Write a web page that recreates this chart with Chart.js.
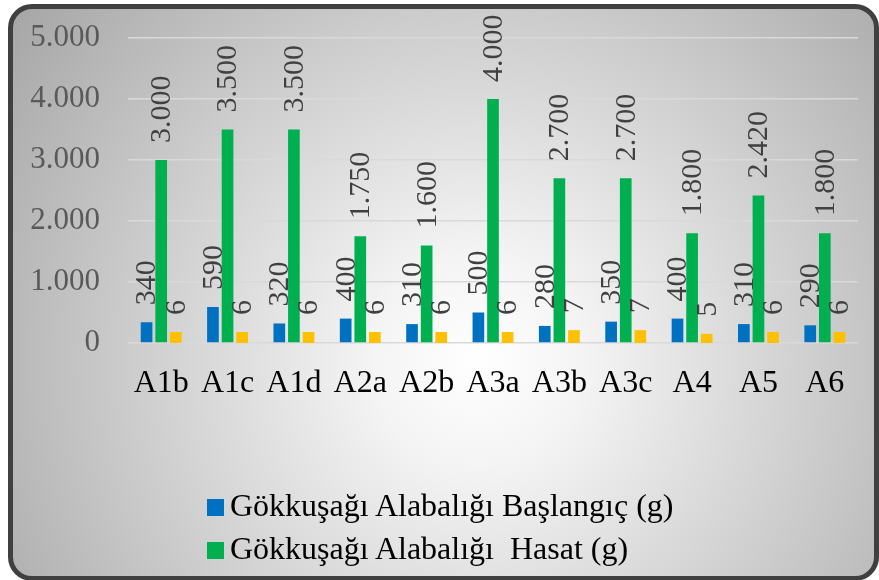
<!DOCTYPE html>
<html>
<head>
<meta charset="utf-8">
<script src="https://cdn.jsdelivr.net/npm/chart.js@4.4.1/dist/chart.umd.min.js"></script>
<style>
  html, body { margin: 0; padding: 0; background: #fff; }
  #frame {
    position: absolute; left: 8px; top: 4px; width: 871px; height: 577px;
    box-sizing: border-box; border: 5px solid #404040; border-radius: 24px;
    background: radial-gradient(circle farthest-corner at 54% 62%, #ffffff 0%, #f4f4f4 18%, #a6a6a6 100%);
  }
  #chart { position: absolute; left: 0; top: 0; }
  #legend {
    position: absolute; left: 207px; top: 487px;
    font-family: "Liberation Serif", "Times New Roman", serif; font-size: 32px; color: #000;
  }
  #legend div { height: 43px; line-height: 36px; white-space: pre; }
  #legend span.box { display: inline-block; width: 17px; height: 17px; margin-right: 6px; vertical-align: 0px; }
</style>
</head>
<body>
<div id="frame"></div>
<canvas id="chart" width="879" height="580"></canvas>
<div id="legend"></div>
<script>
// chart values
const categories = ["A1b", "A1c", "A1d", "A2a", "A2b", "A3a", "A3b", "A3c", "A4", "A5", "A6"];
const startWeights = [340, 590, 320, 400, 310, 500, 280, 350, 400, 310, 290];
const harvestWeights = [3000, 3500, 3500, 1750, 1600, 4000, 2700, 2700, 1800, 2420, 1800];
const thirdValues = [6, 6, 6, 6, 6, 6, 7, 7, 5, 6, 6];
const yTicks = [0, 1000, 2000, 3000, 4000, 5000];

const serif = "'Liberation Serif', 'Times New Roman', serif";

// 3000 -> "3.000"
const fmt = (v) => String(v).replace(/\B(?=(\d{3})+(?!\d))/g, ".");

// rotated value labels above each bar
const barLabels = {
  id: "barLabels",
  afterDatasetsDraw(chart) {
    const ctx = chart.ctx;
    ctx.save();
    ctx.font = "30px " + serif;
    ctx.fillStyle = "#404040";
    ctx.textAlign = "left";
    ctx.textBaseline = "middle";
    chart.data.datasets.forEach((ds, i) => {
      const meta = chart.getDatasetMeta(i);
      meta.data.forEach((bar, j) => {
        ctx.save();
        ctx.translate(bar.x, bar.y - 17);
        ctx.rotate(-Math.PI / 2);
        ctx.fillText(fmt(ds.data[j]), 0, 1);
        ctx.restore();
      });
    });
    ctx.restore();
  }
};

const chart = new Chart(document.getElementById("chart").getContext("2d"), {
  type: "bar",
  data: {
    labels: categories,
    datasets: [
      {
        label: "Gökkuşağı Alabalığı Başlangıç (g)",
        data: startWeights,
        backgroundColor: "#0070C0",
        yAxisID: "y"
      },
      {
        label: "Gökkuşağı Alabalığı  Hasat (g)",
        data: harvestWeights,
        backgroundColor: "#00B050",
        yAxisID: "y"
      },
      {
        label: "",
        data: thirdValues,
        backgroundColor: "#FFC000",
        yAxisID: "y2"
      }
    ]
  },
  options: {
    responsive: false,
    animation: false,
    categoryPercentage: 0.66,
    barPercentage: 0.8,
    layout: { padding: { top: 38, right: 21, left: 0, bottom: 0 } },
    plugins: {
      legend: { display: false },
      tooltip: { enabled: false }
    },
    scales: {
      x: {
        grid: { display: false },
        border: { display: false },
        ticks: { color: "#000", font: { family: serif, size: 32 }, padding: 13, maxRotation: 0 },
        afterFit: (scale) => { scale.height = 237; scale.paddingLeft = 0; scale.paddingRight = 0; }
      },
      y: {
        min: 0,
        max: 5000,
        afterBuildTicks: (scale) => { scale.ticks = yTicks.map((v) => ({ value: v })); },
        grid: { color: "#d9d9d9", lineWidth: 1.5, drawTicks: false },
        border: { display: false },
        ticks: { color: "#595959", font: { family: serif, size: 31 }, padding: 28, callback: (v) => fmt(v) },
        afterFit: (scale) => { scale.width = 128; scale.paddingTop = 0; scale.paddingBottom = 0; }
      },
      y2: {
        display: false,
        min: 0,
        max: 166
      }
    }
  },
  plugins: [barLabels]
});

// legend for the two named series, left aligned like the original
const legendEl = document.getElementById("legend");
chart.data.datasets.slice(0, 2).forEach((ds) => {
  const row = document.createElement("div");
  const box = document.createElement("span");
  box.className = "box";
  box.style.background = ds.backgroundColor;
  row.appendChild(box);
  row.appendChild(document.createTextNode(ds.label));
  legendEl.appendChild(row);
});
</script>
</body>
</html>
